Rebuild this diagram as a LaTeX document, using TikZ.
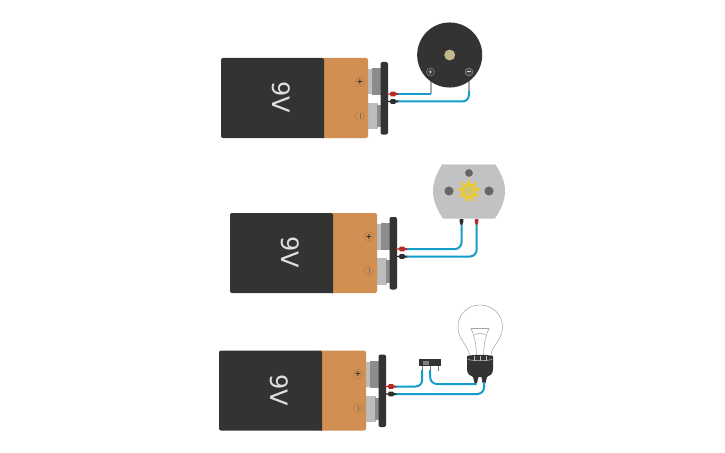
\documentclass[tikz,border=0pt]{standalone}
\usepackage{fontspec}
\setmainfont{DejaVu Sans}
\definecolor{batdark}{HTML}{333333}
\definecolor{batorange}{HTML}{D18F52}
\definecolor{termlight}{HTML}{BDBDBD}
\definecolor{termdark}{HTML}{8C8C8C}
\definecolor{wireblue}{HTML}{149CCB}
\definecolor{pinred}{HTML}{B52A2A}
\definecolor{pinblack}{HTML}{2E2E2E}
\definecolor{leadgray}{HTML}{A8A8A8}
\definecolor{motorgray}{HTML}{C2C2C2}
\definecolor{motordot}{HTML}{666666}
\definecolor{gearyellow}{HTML}{EBCB35}
\definecolor{gearcore}{HTML}{D3C46E}
\definecolor{budot}{HTML}{C4B98A}
\tikzset{
 wire/.style={draw=wireblue,line width=1.5pt,rounded corners=5pt},
 lead/.style={draw=leadgray,line width=1.1pt},
 glass/.style={draw=gray!70,line width=.4pt},
 sign/.style={circle,draw=#1!85!black,line width=.3pt,minimum size=7pt,inner sep=0pt,font=\bfseries\fontsize{6}{6}\selectfont},
 dot/.style={circle,fill=#1,inner sep=0pt},
}
% connector shape: #1 colour, #2 y
\newcommand{\plug}[2]{\fill[#1] (387,#2-.5) -- (390,#2-.6) -- (391,#2-2.3) -- (395,#2-2.3) -- (396,#2-1) -- (398,#2-1) -- (398,#2+1) -- (396,#2+1) -- (395,#2+2.3) -- (391,#2+2.3) -- (390,#2+.6) -- (387,#2+.5) -- cycle;}
% battery: #1 prefix, #2 dx, #3 dy
\newcommand{\batt}[3]{%
\begin{scope}[shift={(#2,#3)}]
 \fill[termlight] (367,69) rectangle (373,94.5);
 \fill[termdark] (372,68) rectangle (381,95);
 \fill[termlight] (367,103) rectangle (378,129.5);
 \fill[termdark] (377,105) rectangle (381,127.5);
 \fill[batorange,rounded corners=1.5pt] (320,58) rectangle (368,138);
 \fill[batdark,rounded corners=1.5pt] (221,58) -- (324,58) [sharp corners] -- (324,138) [rounded corners=1.5pt] -- (221,138) -- cycle;
 \fill[batdark,rounded corners=1.5pt] (380.5,62) rectangle (388,134.5);
 \node[rotate=-90,text=white!88!black,font=\fontsize{18}{18}\selectfont] at (281,97.5) {9V};
 \node[sign=batorange,text=batdark] at (360,81.5) {+};
 \node[sign=batorange,text=batdark!70] at (360,116) {\rule{.6pt}{4pt}};
 \coordinate (#1a) at (397,94);
 \coordinate (#1b) at (397,101.5);
\end{scope}}
\begin{document}
\begin{tikzpicture}[x=0.75pt,y=-0.75pt]
\useasboundingbox (0,0) rectangle (725,453);
\fill[white] (0,0) rectangle (725,453);

% --- buzzer circuit
\batt{p}{0}{0}
\draw[lead] (431,78) -- (431,94);
\draw[lead] (469,78) -- (469,94);
\node[dot=batdark,minimum size=48.8pt] (buzzer) at (449.7,55) {};
\node[dot=budot,minimum size=8.2pt] (buzdot) at (449.7,55) {};
\node[circle,draw=gray!80,line width=.3pt,minimum size=6pt,inner sep=0pt,text=white!80!black,font=\bfseries\fontsize{5}{5}\selectfont] (bplus) at (430.5,72) {+};
\node[circle,draw=gray!80,fill=gray!60!black,line width=.3pt,minimum size=6pt,inner sep=0pt] (bminus) at (469,72) {\textcolor{white!80!black}{\rule[.6pt]{3.2pt}{.5pt}}};
\coordinate (bp) at (431,94);
\coordinate (bm) at (469,91);
\draw[wire] (pa) -- (bp);
\draw[wire] (pb) -- (bm |- pb) -- (bm);
\plug{pinred}{94}\plug{pinblack}{101.5}

% --- motor circuit
\batt{q}{9}{155}
\fill[motorgray] (442.5,164) -- (495,164) .. controls (502,174) and (505,183) .. (505,191) .. controls (505,199) and (502,208) .. (495,218.5) -- (443,218.5) .. controls (436,208) and (433,199) .. (433,191) .. controls (433,183) and (436,174) .. cycle;
\draw[white!88!black,line width=.5pt] (442.5,164) -- (495,164);
\node[dot=motordot,minimum size=6.8pt] (m1) at (449,191) {};
\node[dot=motordot,minimum size=6.8pt] (m2) at (489,191) {};
\node[dot=motordot,minimum size=5.8pt] (m3) at (469,173) {};
\foreach \a in {0,40,...,320}{\fill[gearyellow,rotate around={\a:(469,191)}] (468,180) -- (470,180) -- (470.8,184.5) -- (467.2,184.5) -- cycle;}
\fill[gearyellow] (469,191) circle (7.6);
\fill[gearcore] (469,191) circle (5.4);
\fill[pinblack] (459.7,219) -- (463.3,219) -- (463.3,222) -- (462.3,225) -- (460.7,225) -- (459.7,222) -- cycle;
\fill[pinred] (474.8,219) -- (478.4,219) -- (478.4,222) -- (477.4,225) -- (475.8,225) -- (474.8,222) -- cycle;
\coordinate (mk) at (461.6,225);
\coordinate (mr) at (476.6,225);
\draw[wire] (qa) -- (mk |- qa) -- (mk);
\draw[wire] (qb) -- (mr |- qb) -- (mr);
\begin{scope}[shift={(9,155)}]\plug{pinred}{94}\plug{pinblack}{101.5}\end{scope}

% --- bulb circuit
\batt{r}{-2}{292.5}
\draw[glass,fill=white] (469.5,356) .. controls (469,346) and (458,340) .. (458,327) .. controls (458,314) and (468,305) .. (480,305) .. controls (492,305) and (502.5,314) .. (502.5,327) .. controls (502.5,340) and (491,346) .. (491,356);
\draw[glass] (476.5,356) .. controls (476,345) and (475,337) .. (471,328.5) -- (489,328.5) .. controls (485,337) and (484,345) .. (483.5,356);
\draw[glass] (474.5,335) .. controls (478,333) and (482,333) .. (485.5,335);
\fill[batdark] (467,356) .. controls (473,354.5) and (487,354.5) .. (493,356) -- (493,369) .. controls (493,374) and (490,376) .. (487,377) -- (485.5,383) -- (482.5,383) -- (481.5,377) -- (478.5,377) -- (477,383) -- (474.5,383) -- (473,377) .. controls (470,376) and (467,374) .. (467,369) -- cycle;
\draw[white!75!black,line width=.4pt] (468,359.5) .. controls (474,361) and (486,361) .. (492,359.5);
\foreach \x in {474,480,486}{\draw[white!75!black,line width=.3pt] (\x,356) -- (\x,360.5);}
% switch
\fill[black!55] (421.5,366) rectangle (423,371);
\fill[black!55] (429.5,366) rectangle (431,371);
\fill[black!55] (437.5,366) rectangle (438.5,371);
\node[fill=batdark,minimum width=16.4pt,minimum height=5.2pt,inner sep=0pt] (sw) at (430.2,362.5) {};
\fill[black!50] (422.5,360.5) rectangle (429,365);
\coordinate (s1) at (422.2,370);
\coordinate (s2) at (430.2,370);
\coordinate (l1) at (476.7,384);
\coordinate (l2) at (484,382);
\draw[wire] (ra) -- (s1 |- ra) -- (s1);
\draw[wire] (s2) -- (s2 |- l1) -- (l1);
\draw[wire] (rb) -- (l2 |- rb) -- (l2);
\begin{scope}[shift={(-2,292.5)}]\plug{pinred}{94}\plug{pinblack}{101.5}\end{scope}
\end{tikzpicture}
\end{document}
